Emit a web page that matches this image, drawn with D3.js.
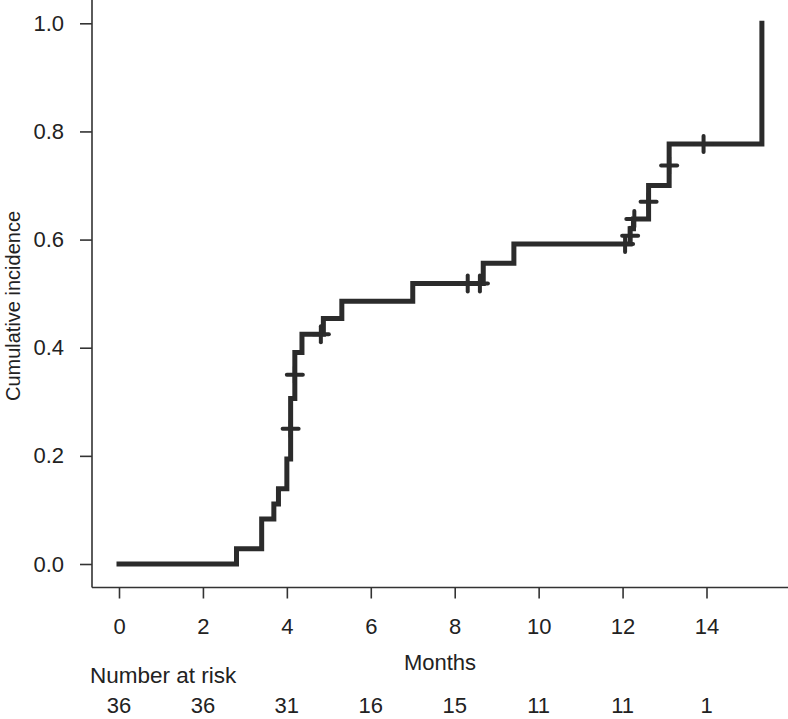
<!DOCTYPE html>
<html><head><meta charset="utf-8">
<script src="https://cdn.jsdelivr.net/npm/d3@7"></script>
<style>body{margin:0;background:#fff}text{font-family:"Liberation Sans",Arial,sans-serif;fill:#222}</style>
</head><body><svg id="c" width="788" height="719"></svg>
<script>
// Step changes of the cumulative incidence curve (time in months, value after the step)
const eventTimes  = [0, 2.80, 3.40, 3.69, 3.80, 4.00, 4.09, 4.19, 4.36, 4.87, 5.31, 7.00, 8.68, 9.41, 12.18, 12.26, 12.62, 13.11, 15.32];
const eventValues = [0, 0.028, 0.083, 0.111, 0.139, 0.194, 0.306, 0.391, 0.425, 0.454, 0.486, 0.519, 0.556, 0.592, 0.620, 0.638, 0.700, 0.777, 1.000];
// Censoring marks
const censorTimes  = [4.09, 4.19, 4.81, 8.31, 8.60, 12.06, 12.18, 12.28, 12.62, 13.11, 13.93];
const censorValues = [0.250, 0.350, 0.425, 0.519, 0.519, 0.592, 0.607, 0.638, 0.670, 0.737, 0.777];
const xTicks = [0, 2, 4, 6, 8, 10, 12, 14];
const yTicks = [0, 0.2, 0.4, 0.6, 0.8, 1.0];
const atRiskTimes = [0, 2, 4, 6, 8, 10, 12, 14];
const atRisk = [36, 36, 31, 16, 15, 11, 11, 1];

const svg = d3.select("#c");
const x = d3.scaleLinear().domain([0, 14]).range([119, 706.5]);
const y = d3.scaleLinear().domain([0, 1]).range([564, 23.3]);
const ink = "#2b2b2b";

// axes frame (L-shaped)
svg.append("line").attr("x1", 92).attr("x2", 92).attr("y1", 0).attr("y2", 587.5)
  .attr("stroke", "#333").attr("stroke-width", 1.6);
svg.append("line").attr("x1", 92).attr("x2", 788).attr("y1", 587.5).attr("y2", 587.5)
  .attr("stroke", "#333").attr("stroke-width", 1.6);

// y axis
const yAxis = d3.axisLeft(y).tickValues(yTicks).tickFormat(d3.format(".1f")).tickSize(12).tickPadding(16);
const gy = svg.append("g").attr("transform", "translate(92,0)").call(yAxis);
gy.select(".domain").remove();
gy.selectAll(".tick line").attr("stroke", "#333").attr("stroke-width", 1.6);
gy.selectAll(".tick text").attr("font-size", 22).attr("font-family", "'Liberation Sans',Arial,sans-serif").attr("fill", "#222");

// x axis
const xAxis = d3.axisBottom(x).tickValues(xTicks).tickFormat(d3.format("d")).tickSize(11).tickPadding(20);
const gx = svg.append("g").attr("transform", "translate(0,587.5)").call(xAxis);
gx.select(".domain").remove();
gx.selectAll(".tick line").attr("stroke", "#333").attr("stroke-width", 1.6);
gx.selectAll(".tick text").attr("font-size", 22).attr("font-family", "'Liberation Sans',Arial,sans-serif").attr("fill", "#222");

// step curve
const pts = eventTimes.map((t, i) => [t, eventValues[i]]);
const line = d3.line().x(d => x(d[0])).y(d => y(d[1])).curve(d3.curveStepAfter);
svg.append("path").attr("d", line(pts)).attr("fill", "none").attr("stroke", ink)
  .attr("stroke-width", 5).attr("stroke-linejoin", "miter").attr("stroke-linecap", "square");

// censor marks (+)
const cg = svg.append("g").attr("stroke", ink).attr("stroke-width", 4).attr("stroke-linecap", "round");
censorTimes.forEach((t, i) => {
  const cx = x(t), cy = y(censorValues[i]);
  cg.append("line").attr("x1", cx - 8).attr("x2", cx + 8).attr("y1", cy).attr("y2", cy);
  cg.append("line").attr("x1", cx).attr("x2", cx).attr("y1", cy - 8).attr("y2", cy + 8);
});

// labels
svg.append("text").attr("transform", "translate(20,306) rotate(-90)").attr("text-anchor", "middle")
  .attr("font-size", 20).text("Cumulative incidence");
svg.append("text").attr("x", 440).attr("y", 670).attr("text-anchor", "middle").attr("font-size", 22).text("Months");
svg.append("text").attr("x", 90).attr("y", 683).attr("font-size", 22.5).text("Number at risk");
svg.append("g").selectAll("text").data(atRisk).join("text")
  .attr("x", (d, i) => x(atRiskTimes[i])).attr("y", 713).attr("text-anchor", "middle")
  .attr("font-size", 22).text(d => d);
</script></body></html>
